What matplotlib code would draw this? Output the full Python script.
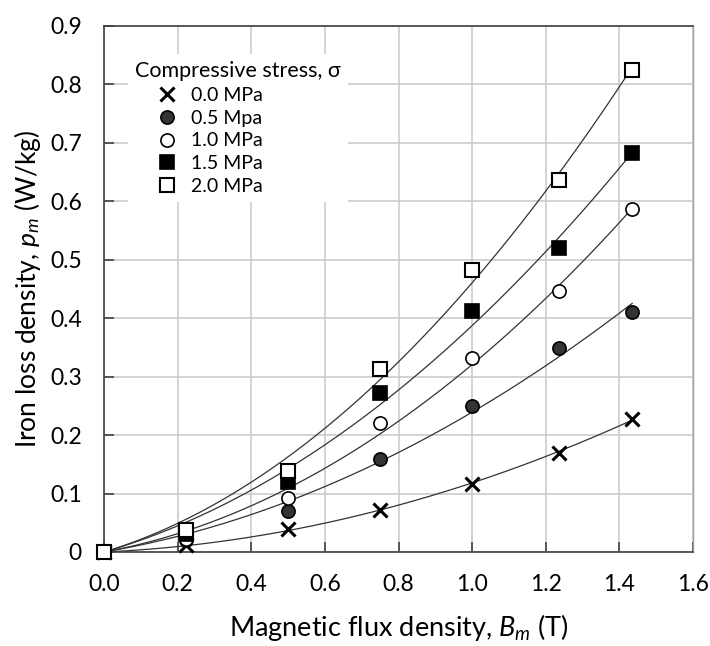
import numpy as np
import matplotlib
matplotlib.use("Agg")
import matplotlib.pyplot as plt
from matplotlib.ticker import FuncFormatter

plt.rcParams['font.family'] = ['Lato', 'DejaVu Serif']
plt.rcParams['mathtext.fontset'] = 'custom'
plt.rcParams['mathtext.rm'] = 'Lato'
plt.rcParams['mathtext.it'] = 'Lato:italic'

# ---- data ----
flux_density = [0.0, 0.224, 0.5, 0.75, 1.0, 1.235, 1.435]
loss_0_0 = [0.0, 0.012, 0.039, 0.072, 0.116, 0.170, 0.228]
loss_0_5 = [0.0, 0.020, 0.070, 0.159, 0.250, 0.349, 0.410]
loss_1_0 = [0.0, 0.022, 0.092, 0.220, 0.332, 0.446, 0.587]
loss_1_5 = [0.0, 0.030, 0.119, 0.272, 0.412, 0.521, 0.682]
loss_2_0 = [0.0, 0.038, 0.139, 0.313, 0.482, 0.637, 0.825]
series_labels = ['0.0 MPa', '0.5 Mpa', '1.0 MPa', '1.5 MPa', '2.0 MPa']
x_ticks = [0.0, 0.2, 0.4, 0.6, 0.8, 1.0, 1.2, 1.4, 1.6]
y_ticks = [0, 0.1, 0.2, 0.3, 0.4, 0.5, 0.6, 0.7, 0.8, 0.9]

series = [loss_0_0, loss_0_5, loss_1_0, loss_1_5, loss_2_0]
styles = [
    dict(marker='x', color='black', markersize=9.5, markeredgewidth=2.2, linestyle='none'),
    dict(marker='o', markerfacecolor='#333333', markeredgecolor='black', markersize=9.5, markeredgewidth=1.2, linestyle='none'),
    dict(marker='o', markerfacecolor='white', markeredgecolor='black', markersize=9.5, markeredgewidth=1.2, linestyle='none'),
    dict(marker='s', markerfacecolor='black', markeredgecolor='black', markersize=9.5, markeredgewidth=1.2, linestyle='none'),
    dict(marker='s', markerfacecolor='white', markeredgecolor='black', markersize=9.5, markeredgewidth=1.5, linestyle='none'),
]

fig = plt.figure(figsize=(7.10, 6.46), dpi=100)
ax = fig.add_axes([104/710, 1-552/646, 589/710, 526/646])

x = np.array(flux_density)
xs = np.linspace(0, x.max(), 200)
for ys in series:
    y = np.array(ys)
    # zero-intercept quadratic trend line fitted to the data
    A = np.vstack([x**2, x]).T
    coef, *_ = np.linalg.lstsq(A, y, rcond=None)
    ax.plot(xs, coef[0]*xs**2 + coef[1]*xs, color='#333333', lw=0.9, zorder=2)

handles = []
for ys, st, lab in zip(series, styles, series_labels):
    h, = ax.plot(flux_density, ys, label=lab, zorder=3, clip_on=False, **st)
    handles.append(h)

ax.set_xlim(0, 1.6)
ax.set_ylim(0, 0.9)
ax.set_xticks(x_ticks)
ax.set_yticks(y_ticks)
ax.xaxis.set_major_formatter(FuncFormatter(lambda v, p: f"{v:.1f}"))
ax.yaxis.set_major_formatter(FuncFormatter(lambda v, p: "0" if abs(v) < 1e-9 else f"{v:.1f}"))
ax.grid(True, color='#c8c8c8', lw=1.1, zorder=0)
ax.set_axisbelow(True)
ax.tick_params(direction='in', length=7, width=1.2, color='#404040', labelsize=16.5, pad=16)
for s in ['left', 'bottom', 'top']:
    ax.spines[s].set_color('#404040')
    ax.spines[s].set_linewidth(1.2)
ax.spines['right'].set_color('#a0a0a0')
ax.spines['right'].set_linewidth(1.0)

ax.set_xlabel('Magnetic flux density, $B_m$ (T)', fontsize=19.5, labelpad=12)
ax.set_ylabel('Iron loss density, $p_m$ (W/kg)', fontsize=19, labelpad=5)

leg = ax.legend(handles=handles, title='Compressive stress, σ', loc='upper left',
                bbox_to_anchor=(0.025, 0.965), frameon=True, fancybox=False,
                edgecolor='white', facecolor='white', framealpha=1.0,
                fontsize=14, title_fontsize=15.5, handletextpad=-0.45,
                labelspacing=0.3, borderpad=0.35, handlelength=3.3)
leg._legend_box.align = 'left'
leg.get_frame().set_linewidth(0)

fig.savefig('out.png', dpi=100)
